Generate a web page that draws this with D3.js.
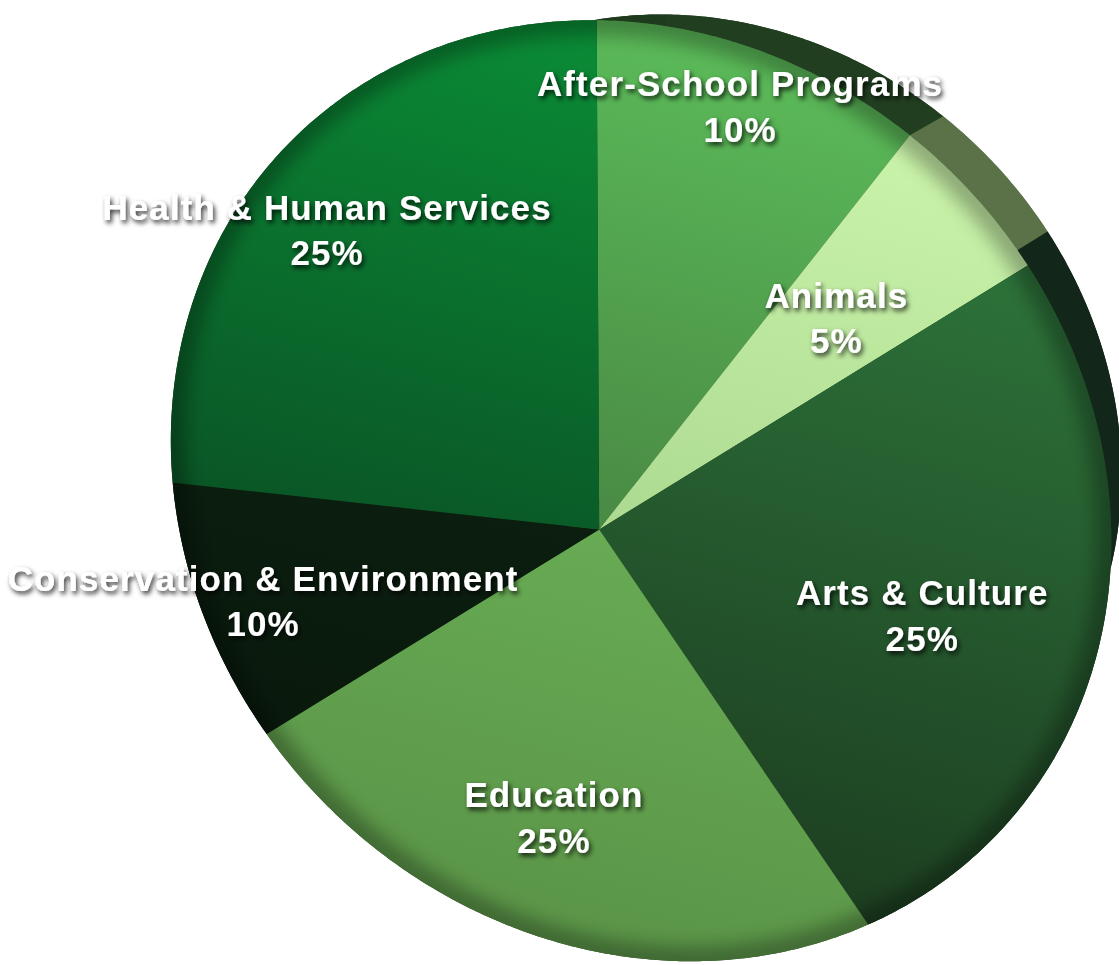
<!DOCTYPE html>
<html><head><meta charset="utf-8">
<script src="https://cdn.jsdelivr.net/npm/d3@7"></script>
<style>html,body{margin:0;padding:0;background:#fff;} svg{display:block;}</style>
</head><body>
<svg id="chart" width="1119" height="965"></svg>
<script>
// ---- data ----
const categories = ["After-School Programs","Animals","Arts & Culture","Education","Conservation & Environment","Health & Human Services"];
const values = [10,5,25,25,10,25];
const valueLabels = ["10%","5%","25%","25%","10%","25%"];

// ---- styles ----
const colorTop    = ["#5cbe5a","#cff8ae","#318040","#79c864","#0e2613","#0a9137"];
const colorBottom = ["#395c31","#8fc078","#19331b","#599246","#08170b","#0a2f1a"];
const rimColor    = ["#213f20","#5b7249","#12271a","#2c4a24","#050d07","#1e3b1e"];

// ---- projection calibration (pie lies on a tilted plane) ----
const hubPoint = [600,531];
const rimStartPoints = [[597,20],[910,137],[1027,263],[868,925],[267,733],[172,483]];
const depthVanish = [1200,-30], depthScale = 0.885;

// label placement in pie space (fraction of radius along each slice's mid angle)
const labelRadius = [0.894,0.664,0.669,0.689,0.834,0.823];

const svg = d3.select("#chart");
const pie = d3.pie().sort(null).value(d=>d);
const arcs = pie(values);
const unit = a => [Math.sin(a), -Math.cos(a)];

function solveHomography(src, dst){
  const A=[], b=[];
  src.forEach(([u,v],i)=>{const [x,y]=dst[i];
    A.push([u,v,1,0,0,0,-u*x,-v*x]); b.push(x);
    A.push([0,0,0,u,v,1,-u*y,-v*y]); b.push(y);});
  const N = Array.from({length:8},()=>new Array(9).fill(0));
  for(let r=0;r<A.length;r++) for(let i=0;i<8;i++){ for(let j=0;j<8;j++) N[i][j]+=A[r][i]*A[r][j]; N[i][8]+=A[r][i]*b[r]; }
  for(let i=0;i<8;i++){ let p=i; for(let k=i+1;k<8;k++) if(Math.abs(N[k][i])>Math.abs(N[p][i])) p=k; [N[i],N[p]]=[N[p],N[i]];
    for(let k=0;k<8;k++){ if(k===i) continue; const f=N[k][i]/N[i][i]; for(let j=i;j<9;j++) N[k][j]-=f*N[i][j]; } }
  return N.map((row,i)=>row[8]/row[i]);
}
const src = [[0,0], ...arcs.map(a=>unit(a.startAngle))];
const dst = [hubPoint, ...rimStartPoints];
const h = solveHomography(src,dst);
const project = ([u,v]) => { const w=h[6]*u+h[7]*v+1; return [(h[0]*u+h[1]*v+h[2])/w,(h[3]*u+h[4]*v+h[5])/w]; };
const sink = ([x,y]) => [depthVanish[0]+(x-depthVanish[0])*depthScale, depthVanish[1]+(y-depthVanish[1])*depthScale];

function arcPoints(a0,a1){
  const n=Math.max(2,Math.ceil((a1-a0)/(Math.PI/360)));
  return d3.range(n+1).map(i=>project(unit(a0+(a1-a0)*i/n)));
}
const line = d3.line().curve(d3.curveLinearClosed);
const hubP = project([0,0]);

const defs = svg.append("defs");
arcs.forEach((a,i)=>{
  const g = defs.append("linearGradient").attr("id","g"+i).attr("gradientUnits","userSpaceOnUse")
    .attr("x1",700).attr("y1",0).attr("x2",450).attr("y2",965);
  g.append("stop").attr("offset",0).attr("stop-color",colorTop[i]);
  g.append("stop").attr("offset",1).attr("stop-color",colorBottom[i]);
});
const ds = defs.append("filter").attr("id","ts").attr("x","-20%").attr("y","-50%").attr("width","140%").attr("height","200%");
ds.append("feDropShadow").attr("dx",2).attr("dy",3).attr("stdDeviation",2.5).attr("flood-color","#000").attr("flood-opacity",0.8);
const bl = defs.append("filter").attr("id","blur").attr("x","-20%").attr("y","-20%").attr("width","140%").attr("height","140%");
bl.append("feGaussianBlur").attr("stdDeviation",9);
const outline = arcPoints(0,2*Math.PI);
defs.append("clipPath").attr("id","clipTop").append("path").attr("d",line(outline));

// rim (side of the disc)
const rim = svg.append("g");
arcs.forEach((a,i)=>{
  const top = arcPoints(a.startAngle,a.endAngle);
  const bottom = top.map(sink);
  rim.append("path").attr("d",line([sink(hubP),...bottom])).attr("fill",rimColor[i]);
  rim.append("path").attr("d",line([...top,...bottom.slice().reverse()])).attr("fill",rimColor[i]);
});

// top faces
const faces = svg.append("g");
arcs.forEach((a,i)=>{
  faces.append("path").attr("d",line([hubP,...arcPoints(a.startAngle,a.endAngle)])).attr("fill",`url(#g${i})`);
});
svg.append("g").attr("clip-path","url(#clipTop)")
  .append("path").attr("d",line(outline)).attr("fill","none").attr("stroke","#000")
  .attr("stroke-width",30).attr("stroke-opacity",0.3).attr("filter","url(#blur)");

// labels
const lab = svg.append("g").attr("font-family","'Liberation Sans',Arial,Helvetica,sans-serif")
  .attr("font-weight","bold").attr("font-size",35).attr("letter-spacing","1.1px")
  .attr("fill","#fff").attr("text-anchor","middle").attr("filter","url(#ts)");
arcs.forEach((a,i)=>{
  const mid=(a.startAngle+a.endAngle)/2;
  const [x,y]=project(unit(mid).map(c=>c*labelRadius[i]));
  lab.append("text").attr("x",x).attr("y",y-10.5).text(categories[i]);
  lab.append("text").attr("x",x).attr("y",y+35).text(valueLabels[i]);
});
</script>
</body></html>
